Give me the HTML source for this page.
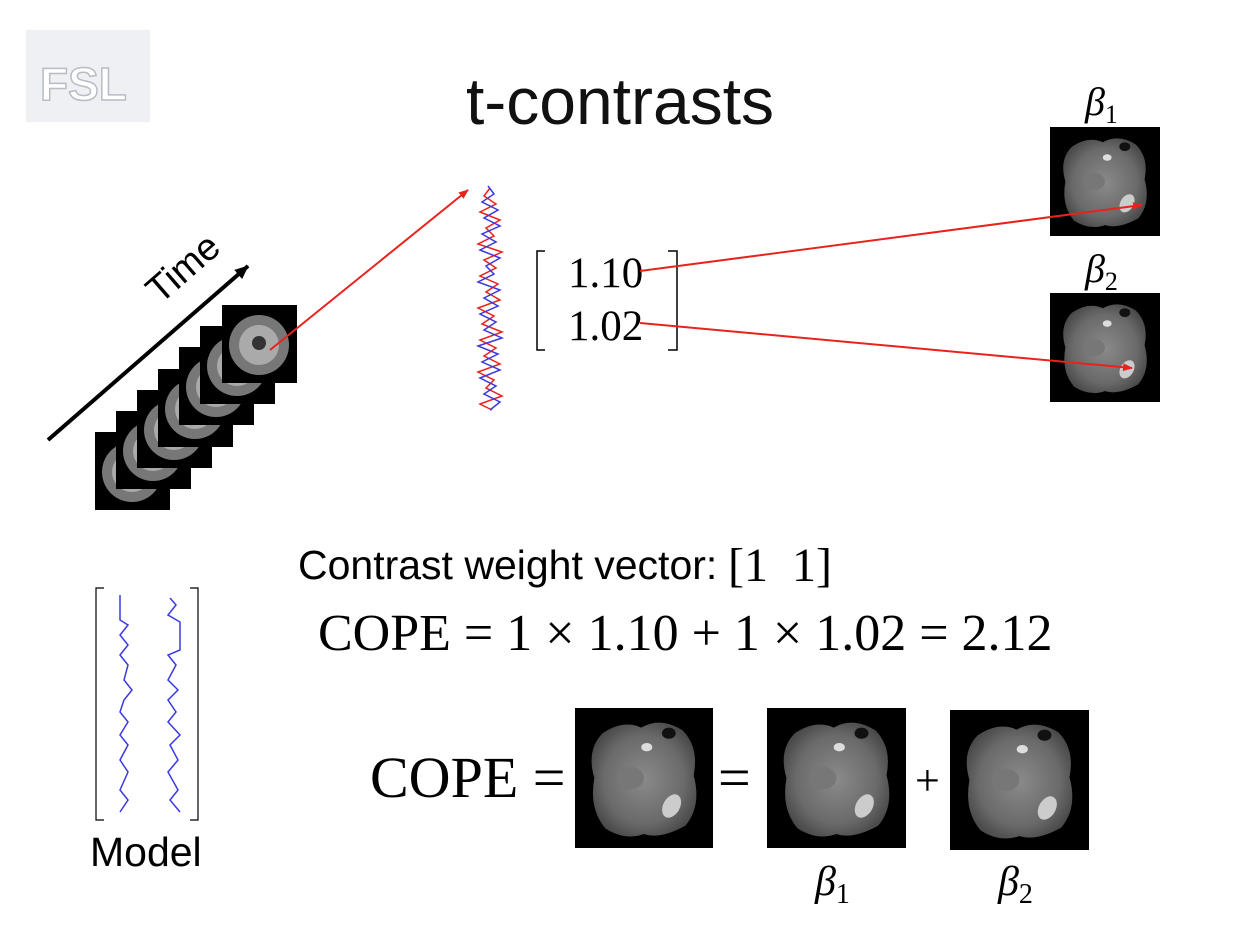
<!DOCTYPE html>
<html><head><meta charset="utf-8"><style>
body{margin:0;background:#fff;}
svg{display:block;}
.s{font-family:"Liberation Serif",serif;}
.a{font-family:"Liberation Sans",sans-serif;}
</style></head><body>
<svg width="1237" height="951" viewBox="0 0 1237 951" xmlns="http://www.w3.org/2000/svg">
<defs>
<radialGradient id="bg" cx="50%" cy="50%" r="55%">
<stop offset="0" stop-color="#8a8a8a"/><stop offset="0.7" stop-color="#6a6a6a"/><stop offset="1" stop-color="#4a4a4a"/></radialGradient>
<g id="brain">
<rect x="0" y="0" width="100" height="100" fill="#000"/>
<path d="M20,18 Q35,8 48,14 Q62,6 78,16 Q90,28 86,48 Q92,70 80,84 Q62,94 50,90 Q36,95 22,86 Q10,72 14,50 Q8,30 20,18Z" fill="url(#bg)"/>
<ellipse cx="52" cy="28" rx="4" ry="3" fill="#ddd"/>
<ellipse cx="68" cy="18" rx="5" ry="4" fill="#111"/>
<ellipse cx="70" cy="70" rx="6" ry="9" fill="#ccc" transform="rotate(30 70 70)"/>
<ellipse cx="40" cy="50" rx="10" ry="8" fill="#777"/>
</g>
<g id="slice">
<rect x="0" y="0" width="75" height="78" fill="#000"/>
<ellipse cx="37" cy="40" rx="30" ry="30" fill="#777"/>
<ellipse cx="37" cy="40" rx="20" ry="20" fill="#aaa"/>
<circle cx="37" cy="38" r="7" fill="#333"/>
</g>
<marker id="ar" markerWidth="10" markerHeight="8" refX="9" refY="4" orient="auto" markerUnits="userSpaceOnUse"><path d="M0,0L10,4L0,8Z" fill="#e8231c"/></marker>
<marker id="ak" markerWidth="14" markerHeight="12" refX="13" refY="6" orient="auto" markerUnits="userSpaceOnUse"><path d="M0,0L14,6L0,12Z" fill="#000"/></marker>
</defs>
<rect x="26" y="30" width="124" height="92" fill="#eef0f4"/>
<text x="40" y="100" class="a" font-size="46" fill="#fff" stroke="#b8bcc4" stroke-width="1.5" font-weight="bold">FSL</text>
<text x="620" y="124" text-anchor="middle" class="a" font-size="66" fill="#111">t-contrasts</text>
<text x="1085" y="115" class="s" font-size="40" font-style="italic">β<tspan font-size="26" dy="8" font-style="normal">1</tspan></text>
<use href="#brain" transform="translate(1050,127) scale(1.1,1.09)"/>
<text x="1085" y="282" class="s" font-size="40" font-style="italic">β<tspan font-size="26" dy="8" font-style="normal">2</tspan></text>
<use href="#brain" transform="translate(1050,293) scale(1.1,1.09)"/>
<line x1="48" y1="440" x2="248" y2="266" stroke="#000" stroke-width="4" marker-end="url(#ak)"/>
<text x="0" y="0" class="a" font-size="38" transform="translate(160,305) rotate(-41)">Time</text>
<use href="#slice" x="95" y="432"/>
<use href="#slice" x="116" y="411"/>
<use href="#slice" x="137" y="390"/>
<use href="#slice" x="158" y="369"/>
<use href="#slice" x="179" y="347"/>
<use href="#slice" x="200" y="326"/>
<use href="#slice" x="222" y="305"/>
<line x1="270" y1="350" x2="468" y2="190" stroke="#e8231c" stroke-width="2" marker-end="url(#ar)"/>
<polyline fill="none" stroke="#e8231c" stroke-width="1.5" points="490,188 484,196 496,204 480,212 500,220 486,228 494,236 478,244 502,252 484,260 496,268 480,276 498,284 486,292 500,300 478,308 494,316 482,324 502,332 480,340 496,348 484,356 500,364 478,372 494,380 486,388 502,396 480,404 492,410"/>
<polyline fill="none" stroke="#3a3ae0" stroke-width="1.5" points="488,186 494,194 482,202 498,210 484,218 500,226 482,234 496,242 480,250 500,258 486,266 494,274 478,282 500,290 484,298 498,306 480,314 496,322 484,330 502,338 478,346 498,354 482,362 500,370 480,378 496,386 484,394 500,402 490,410"/>
<path d="M545,251 H537 V350 H545 M668,251 H677 V350 H668" fill="none" stroke="#000" stroke-width="1.5"/>
<text x="568" y="287" class="s" font-size="43">1.10</text>
<text x="568" y="340" class="s" font-size="43">1.02</text>
<line x1="640" y1="271" x2="1142" y2="205" stroke="#e8231c" stroke-width="2" marker-end="url(#ar)"/>
<line x1="640" y1="323" x2="1132" y2="368" stroke="#e8231c" stroke-width="2" marker-end="url(#ar)"/>
<text x="298" y="579" class="a" font-size="41">Contrast weight vector:</text>
<text x="728" y="581" class="s" font-size="48" xml:space="preserve">[1  1]</text>
<text x="318" y="650" class="s" font-size="52">COPE = 1 × 1.10 + 1 × 1.02 = 2.12</text>
<path d="M104,588 H96 V820 H104 M190,588 H198 V820 H190" fill="none" stroke="#000" stroke-width="1.2"/>
<polyline fill="none" stroke="#3a3ae0" stroke-width="1.5" points="120,595 120,620 128,625 120,635 128,645 120,655 128,665 124,680 132,690 124,700 120,712 128,722 120,735 128,745 120,760 128,772 120,790 128,800 120,812"/>
<polyline fill="none" stroke="#3a3ae0" stroke-width="1.5" points="170,598 176,605 168,615 180,622 180,650 168,655 176,665 168,680 178,690 168,700 176,712 168,722 180,735 170,745 178,760 168,772 178,790 170,800 180,812"/>
<text x="90" y="866" class="a" font-size="41">Model</text>
<text x="370" y="797" class="s" font-size="58">COPE =</text>
<use href="#brain" transform="translate(575,708) scale(1.38,1.4)"/>
<text x="718" y="797" class="s" font-size="58">=</text>
<use href="#brain" transform="translate(767,708) scale(1.39,1.4)"/>
<text x="915" y="795" class="s" font-size="44">+</text>
<use href="#brain" transform="translate(950,710) scale(1.39,1.4)"/>
<text x="815" y="895" class="s" font-size="42" font-style="italic">β<tspan font-size="28" dy="8" font-style="normal">1</tspan></text>
<text x="998" y="895" class="s" font-size="42" font-style="italic">β<tspan font-size="28" dy="8" font-style="normal">2</tspan></text>
</svg>
</body></html>
